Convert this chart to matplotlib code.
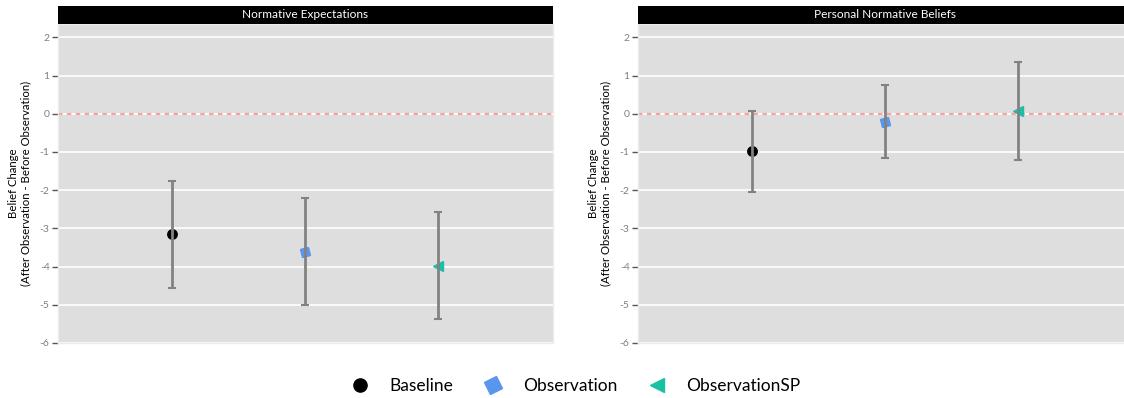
import matplotlib.pyplot as plt
from matplotlib.lines import Line2D
from matplotlib.markers import MarkerStyle
from matplotlib.transforms import Affine2D

plt.rcParams['font.family'] = ['Lato', 'DejaVu Sans']
plt.rcParams['axes.unicode_minus'] = False

# données
conditions = ["Baseline", "Observation", "ObservationSP"]
panels = ["Normative Expectations", "Personal Normative Beliefs"]

ne_mean = [-3.15, -3.61, -3.99]
ne_low = [-4.55, -5.00, -5.38]
ne_high = [-1.77, -2.21, -2.58]

pnb_mean = [-0.97, -0.21, 0.08]
pnb_low = [-2.04, -1.17, -1.20]
pnb_high = [0.08, 0.76, 1.36]

colors = ["#000000", "#5b96ee", "#1bbfa6"]
sq = MarkerStyle('s', transform=Affine2D().rotate_deg(12))
markers = ["o", sq, "<"]
msizes = [6.8, 6.2, 6.8]

fig = plt.figure(figsize=(11.24, 3.98), dpi=100)

W, H = 1124, 398
panel_left = [58, 638]
pw = 495
top, bottom = 24, 343

data = [(ne_mean, ne_low, ne_high), (pnb_mean, pnb_low, pnb_high)]
x = [1, 2, 3]

for k in range(2):
    ax = fig.add_axes([panel_left[k] / W, 1 - bottom / H, pw / W, (bottom - top) / H])
    ax.set_facecolor("#dedede")
    mean, low, high = data[k]
    for i in range(3):
        ax.plot(x[i], mean[i], marker=markers[i], color=colors[i], markersize=msizes[i],
                linestyle="none", zorder=2)
    yerr = [[m - l for m, l in zip(mean, low)], [h - m for m, h in zip(mean, high)]]
    ax.errorbar(x, mean, yerr=yerr, fmt="none", ecolor="#828282", elinewidth=2,
                capsize=3, capthick=1.5, zorder=3)
    ax.axhline(0, color="#f4a49c", linestyle=(0, (2, 2)), linewidth=1.6, zorder=1.5)
    ax.set_xlim(0.143, 3.865)
    ax.set_ylim(-6, 2.35)
    ax.set_yticks(range(-6, 3))
    ax.set_yticklabels([str(v) for v in range(-6, 3)])
    ax.set_xticks([])
    ax.grid(axis="y", color="white", linewidth=1.2, zorder=0)
    ax.set_axisbelow(True)
    for s in ax.spines.values():
        s.set_color("#ececec")
        s.set_linewidth(1)
    ax.tick_params(axis="y", length=4, width=1, color="#555555", labelcolor="#808080",
                   labelsize=7.5, pad=2)
    ax.set_ylabel("Belief Change\n(After Observation - Before Observation)", fontsize=8.2,
                  labelpad=6)

    # bandeau du titre
    sx = fig.add_axes([panel_left[k] / W, 1 - top / H, pw / W, 18 / H])
    sx.set_facecolor("black")
    sx.set_xticks([])
    sx.set_yticks([])
    for s in sx.spines.values():
        s.set_visible(False)
    sx.text(0.5, 0.5, panels[k], color="white", fontsize=8.6, ha="center", va="center",
            transform=sx.transAxes)

handles = []
leg_markers = ["o", MarkerStyle('s', transform=Affine2D().rotate_deg(30)), "<"]
leg_sizes = [9.5, 10, 10]
for i in range(3):
    handles.append(Line2D([], [], marker=leg_markers[i], color=colors[i], linestyle="none",
                          markersize=leg_sizes[i]))
fig.legend(handles, conditions, loc="center", bbox_to_anchor=(576 / W, 1 - 386 / H), ncol=3,
           frameon=False, fontsize=12.5, handlelength=1, handletextpad=1.2, columnspacing=1.8)

fig.savefig("out.png", dpi=100)
